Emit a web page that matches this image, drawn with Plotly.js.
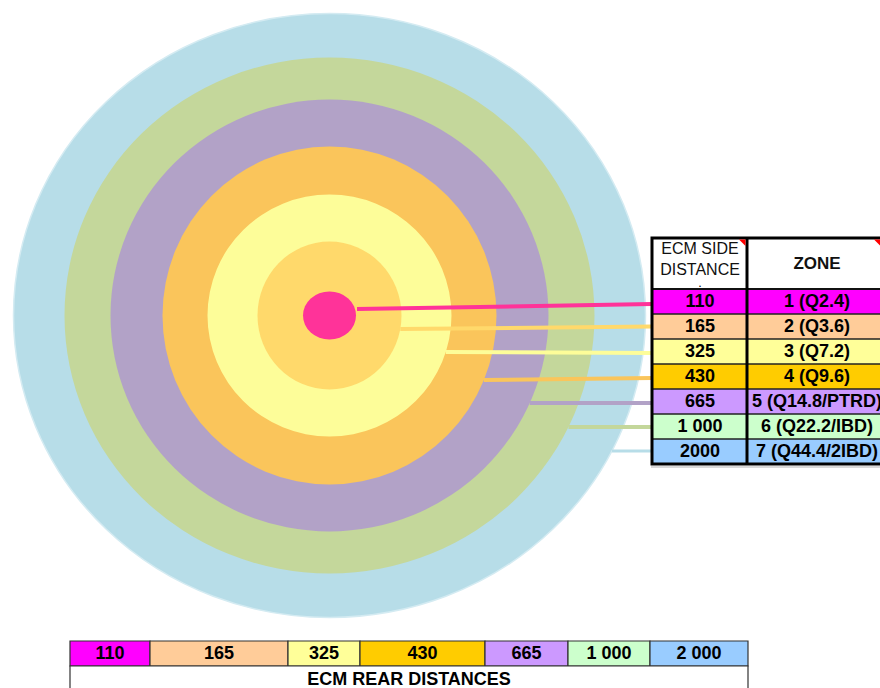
<!DOCTYPE html>
<html>
<head>
<meta charset="utf-8">
<script src="https://cdn.plot.ly/plotly-3.0.1.min.js"></script>
<style>
  html, body { margin: 0; padding: 0; background: #ffffff; }
  #chart { width: 880px; height: 688px; }
</style>
</head>
<body>
<div id="chart"></div>
<script>
// ---------------- DATA ----------------
const zoneLabels = ['1 (Q2.4)', '2 (Q3.6)', '3 (Q7.2)', '4 (Q9.6)', '5 (Q14.8/PTRD)', '6 (Q22.2/IBD)', '7 (Q44.4/2IBD)'];
const sideDistanceLabels = ['110', '165', '325', '430', '665', '1 000', '2000'];
const rearDistanceLabels = ['110', '165', '325', '430', '665', '1 000', '2 000'];
const sideHeaderLabels = ['ECM SIDE<br>DISTANCE', 'ZONE'];
const rearCaption = 'ECM REAR DISTANCES';

// ---------------- STYLE / LAYOUT CONSTANTS ----------------
const FONT = 'Liberation Sans, Arial, sans-serif';
const ringColors = ['#ff3399', '#ffd96b', '#fdfd99', '#fac55b', '#b2a2c7', '#c4d79b', '#b7dde8']; // inner -> outer
const tableColors = ['#ff00ff', '#ffcc99', '#ffff99', '#ffcc00', '#cc99ff', '#ccffcc', '#99ccff'];
const center = { x: 329.5, y: 315.5 };
const ringRx = [26.5, 72, 122, 167, 219, 265, 316];
const ringRy = [24, 74, 121, 169, 216, 258, 302];
const connStartY = [309, 329, 352, 380, 403, 427, 451];
const connEndY = [304, 326.5, 353, 378, 403, 427, 451];
const connWidth = [4, 4, 4, 4, 4, 4, 3];
const side = { left: 652, mid: 747, right: 882, top: 238, head: 289, rowH: 25, col1X: 700, col2X: 817 };
const rear = { edges: [70, 150, 288, 360, 485, 568, 650, 748], top: 641, mid: 666, bottom: 696 };

// ---------------- BUILD ----------------
const shapes = [];
const traces = [];

// concentric rings, outer first
for (let i = ringRx.length - 1; i >= 0; i--) {
  shapes.push({
    type: 'circle', xref: 'x', yref: 'y', layer: 'below',
    x0: center.x - ringRx[i], x1: center.x + ringRx[i],
    y0: center.y - ringRy[i], y1: center.y + ringRy[i],
    fillcolor: ringColors[i],
    line: { width: i === ringRx.length - 1 ? 1.5 : 0, color: '#d4ebf2' }
  });
}

// connector lines from ring edge to side table row
zoneLabels.forEach((z, i) => {
  const dy = (connStartY[i] - center.y) / ringRy[i];
  const sx = center.x + ringRx[i] * Math.sqrt(Math.max(0, 1 - dy * dy)) + (i === 0 ? 2 : 0);
  traces.push({
    type: 'scatter', mode: 'lines', hoverinfo: 'skip', showlegend: false,
    x: [sx, side.left], y: [connStartY[i], connEndY[i]],
    line: { color: ringColors[i], width: connWidth[i] }
  });
});

// side table cells
const rowCenters = [];
zoneLabels.forEach((z, i) => {
  const y0 = side.head + i * side.rowH, y1 = y0 + side.rowH;
  rowCenters.push((y0 + y1) / 2 + 1);
  shapes.push({ type: 'rect', xref: 'x', yref: 'y', layer: 'below', x0: side.left, x1: side.right, y0: y0, y1: y1,
    fillcolor: tableColors[i], line: { width: 0 } });
  if (i > 0) shapes.push({ type: 'line', xref: 'x', yref: 'y', layer: 'above', x0: side.left, x1: side.right, y0: y0, y1: y0,
    line: { color: '#222222', width: 1.3 } });
});
const sideBottom = side.head + zoneLabels.length * side.rowH;
shapes.push({ type: 'rect', xref: 'x', yref: 'y', layer: 'below', x0: side.left, x1: side.right, y0: side.top, y1: side.head,
  fillcolor: '#ffffff', line: { width: 0 } });
// shadow
shapes.push({ type: 'line', xref: 'x', yref: 'y', layer: 'below', x0: side.left - 1, x1: side.right, y0: sideBottom + 3, y1: sideBottom + 3,
  line: { color: '#d9d9d9', width: 2 } });
shapes.push({ type: 'line', xref: 'x', yref: 'y', layer: 'above', x0: side.left, x1: side.right, y0: side.head, y1: side.head,
  line: { color: '#111111', width: 2 } });
shapes.push({ type: 'rect', xref: 'x', yref: 'y', layer: 'above', x0: side.left, x1: side.right, y0: side.top, y1: sideBottom,
  line: { color: '#000000', width: 3 } });
shapes.push({ type: 'line', xref: 'x', yref: 'y', layer: 'above', x0: side.mid, x1: side.mid, y0: side.top, y1: sideBottom,
  line: { color: '#000000', width: 3 } });
// comment indicators
[side.mid, side.right].forEach(xr => {
  shapes.push({ type: 'path', xref: 'x', yref: 'y', layer: 'above',
    path: `M ${xr - 8} ${side.top + 1.5} L ${xr - 1.5} ${side.top + 1.5} L ${xr - 1.5} ${side.top + 8} Z`,
    fillcolor: '#ff0000', line: { width: 0 } });
});

// rear table cells
const rearCenters = [];
rearDistanceLabels.forEach((d, i) => {
  const x0 = rear.edges[i], x1 = rear.edges[i + 1];
  rearCenters.push((x0 + x1) / 2);
  shapes.push({ type: 'rect', xref: 'x', yref: 'y', layer: 'below', x0: x0, x1: x1, y0: rear.top, y1: rear.mid,
    fillcolor: tableColors[i], line: { color: '#333333', width: 1.2 } });
});
const rl = rear.edges[0], rr = rear.edges[rear.edges.length - 1];
shapes.push({ type: 'rect', xref: 'x', yref: 'y', layer: 'below', x0: rl, x1: rr, y0: rear.mid, y1: rear.bottom,
  fillcolor: '#ffffff', line: { color: '#333333', width: 1.2 } });

// texts
const boldFont = { family: FONT, size: 18, color: '#000000', weight: 700 };
traces.push({ type: 'scatter', mode: 'text', hoverinfo: 'skip', showlegend: false,
  x: sideDistanceLabels.map(() => side.col1X), y: rowCenters, text: sideDistanceLabels,
  textposition: 'middle center', textfont: boldFont });
traces.push({ type: 'scatter', mode: 'text', hoverinfo: 'skip', showlegend: false,
  x: zoneLabels.map(() => side.col2X), y: rowCenters, text: zoneLabels,
  textposition: 'middle center', textfont: boldFont });
traces.push({ type: 'scatter', mode: 'text', hoverinfo: 'skip', showlegend: false,
  x: [side.col1X], y: [260.5], text: [sideHeaderLabels[0]],
  textposition: 'middle center', textfont: { family: FONT, size: 16, color: '#111111', weight: 400 } });
traces.push({ type: 'scatter', mode: 'text', hoverinfo: 'skip', showlegend: false,
  x: [side.col1X], y: [285], text: ['.'],
  textposition: 'middle center', textfont: { family: FONT, size: 9, color: '#111111', weight: 700 } });
traces.push({ type: 'scatter', mode: 'text', hoverinfo: 'skip', showlegend: false,
  x: [side.col2X], y: [265], text: [sideHeaderLabels[1]],
  textposition: 'middle center', textfont: { family: FONT, size: 17, color: '#111111', weight: 700 } });
traces.push({ type: 'scatter', mode: 'text', hoverinfo: 'skip', showlegend: false,
  x: rearCenters, y: rearCenters.map(() => (rear.top + rear.mid) / 2 + 1), text: rearDistanceLabels,
  textposition: 'middle center', textfont: boldFont });
traces.push({ type: 'scatter', mode: 'text', hoverinfo: 'skip', showlegend: false,
  x: [(rl + rr) / 2], y: [680], text: [rearCaption],
  textposition: 'middle center', textfont: boldFont });

const layout = {
  width: 880, height: 688,
  margin: { l: 0, r: 0, t: 0, b: 0, pad: 0 },
  paper_bgcolor: '#ffffff', plot_bgcolor: '#ffffff',
  showlegend: false,
  xaxis: { range: [0, 880], autorange: false, visible: false, fixedrange: true },
  yaxis: { range: [688, 0], autorange: false, visible: false, fixedrange: true },
  shapes: shapes
};

Plotly.newPlot('chart', traces, layout, { displayModeBar: false, staticPlot: true });
</script>
</body>
</html>
